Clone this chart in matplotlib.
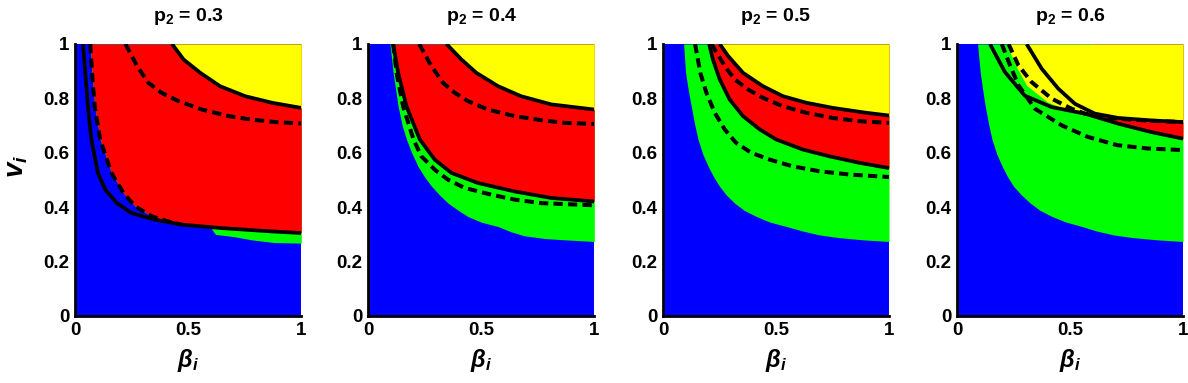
import matplotlib
matplotlib.use('Agg')
import matplotlib.pyplot as plt

plt.rcParams['font.family'] = ['Liberation Sans', 'DejaVu Sans']
plt.rcParams['font.weight'] = 'bold'
plt.rcParams['mathtext.fontset'] = 'custom'
plt.rcParams['mathtext.rm'] = 'Liberation Sans:bold'
plt.rcParams['mathtext.it'] = 'Liberation Sans:bold:italic'
plt.rcParams['mathtext.bf'] = 'Liberation Sans:bold'

BLUE = '#0000ff'
GREEN = '#00ff00'
RED = '#ff0000'
YELLOW = '#ffff00'

p2_values = [0.3, 0.4, 0.5, 0.6]

# --- p2 = 0.3 ---
p1_green_b = [0.066, 0.074, 0.086, 0.11, 0.16, 0.214, 0.265, 0.34, 0.41, 0.47, 0.6, 0.62, 0.7, 0.78, 0.88, 1.0]
p1_green_v = [1.0, 0.894, 0.77, 0.649, 0.526, 0.451, 0.403, 0.366, 0.348, 0.336, 0.324, 0.300, 0.292, 0.280, 0.270, 0.268]
p1_red_b = [0.066, 0.074, 0.086, 0.11, 0.16, 0.214, 0.265, 0.34, 0.41, 0.47, 0.65, 0.87, 1.0]
p1_red_v = [1.0, 0.894, 0.77, 0.649, 0.526, 0.451, 0.403, 0.366, 0.348, 0.336, 0.323, 0.311, 0.305]
p1_yel_b = [0.428, 0.479, 0.553, 0.64, 0.752, 0.87, 1.0]
p1_yel_v = [1.0, 0.943, 0.894, 0.845, 0.808, 0.784, 0.765]
p1_solid = [
    ([0.034, 0.044, 0.056, 0.071, 0.10, 0.133, 0.184, 0.25, 0.354, 0.47, 0.65, 0.87, 1.0],
     [1.0, 0.894, 0.77, 0.649, 0.526, 0.464, 0.415, 0.378, 0.354, 0.336, 0.323, 0.311, 0.305]),
    (p1_yel_b, p1_yel_v),
]
p1_dashed = [
    ([0.066, 0.074, 0.086, 0.11, 0.16, 0.214, 0.265, 0.34, 0.41, 0.47],
     [1.0, 0.894, 0.77, 0.649, 0.526, 0.451, 0.403, 0.366, 0.348, 0.336]),
    ([0.222, 0.273, 0.324, 0.383, 0.457, 0.56, 0.678, 0.78, 0.885, 1.0],
     [1.0, 0.919, 0.857, 0.82, 0.79, 0.759, 0.735, 0.722, 0.713, 0.708]),
]

# --- p2 = 0.4 ---
p2_green_b = [0.096, 0.11, 0.132, 0.15, 0.169, 0.192, 0.22, 0.25, 0.28, 0.315, 0.353, 0.395, 0.44, 0.5, 0.574, 0.63, 0.69, 0.78, 0.868, 1.0]
p2_green_v = [1.0, 0.894, 0.771, 0.70, 0.649, 0.60, 0.55, 0.51, 0.477, 0.445, 0.415, 0.39, 0.366, 0.345, 0.329, 0.31, 0.295, 0.285, 0.28, 0.274]
p2_red_b = [0.11, 0.132, 0.169, 0.228, 0.294, 0.368, 0.485, 0.647, 0.809, 1.0]
p2_red_v = [1.0, 0.894, 0.771, 0.649, 0.575, 0.526, 0.489, 0.458, 0.434, 0.421]
p2_yel_b = [0.346, 0.412, 0.478, 0.574, 0.676, 0.809, 1.0]
p2_yel_v = [1.0, 0.943, 0.894, 0.845, 0.808, 0.778, 0.759]
p2_solid = [(p2_red_b, p2_red_v), (p2_yel_b, p2_yel_v)]
p2_dashed = [
    ([0.11, 0.125, 0.154, 0.2, 0.235, 0.294, 0.353, 0.426, 0.544, 0.647, 0.765, 1.0],
     [1.0, 0.894, 0.771, 0.649, 0.587, 0.538, 0.501, 0.471, 0.446, 0.428, 0.415, 0.407]),
    ([0.225, 0.279, 0.331, 0.382, 0.441, 0.529, 0.647, 0.765, 0.868, 1.0],
     [1.0, 0.919, 0.857, 0.821, 0.79, 0.759, 0.735, 0.72, 0.71, 0.706]),
]

# --- p2 = 0.5 ---
p3_green_b = [0.091, 0.1, 0.112, 0.125, 0.14, 0.155, 0.176, 0.2, 0.225, 0.25, 0.28, 0.317, 0.36, 0.413, 0.47, 0.546, 0.62, 0.693, 0.78, 0.885, 1.0]
p3_green_v = [1.0, 0.894, 0.83, 0.771, 0.705, 0.649, 0.595, 0.55, 0.51, 0.477, 0.445, 0.415, 0.388, 0.366, 0.346, 0.329, 0.312, 0.298, 0.288, 0.28, 0.274]
p3_red_b = [0.204, 0.221, 0.251, 0.295, 0.354, 0.428, 0.501, 0.619, 0.737, 0.87, 1.0]
p3_red_v = [1.0, 0.943, 0.87, 0.796, 0.735, 0.686, 0.649, 0.612, 0.587, 0.563, 0.544]
p3_yel_b = [0.251, 0.288, 0.354, 0.442, 0.531, 0.634, 0.752, 0.9, 1.0]
p3_yel_v = [1.0, 0.956, 0.894, 0.845, 0.808, 0.784, 0.765, 0.747, 0.737]
p3_solid = [(p3_red_b, p3_red_v), (p3_yel_b, p3_yel_v)]
p3_dashed = [
    ([0.142, 0.165, 0.192, 0.229, 0.273, 0.324, 0.391, 0.472, 0.575, 0.693, 0.826, 1.0],
     [1.0, 0.894, 0.821, 0.747, 0.686, 0.636, 0.6, 0.575, 0.55, 0.532, 0.52, 0.511]),
    ([0.215, 0.229, 0.273, 0.317, 0.376, 0.442, 0.531, 0.634, 0.752, 0.87, 1.0],
     [1.0, 0.98, 0.919, 0.87, 0.833, 0.802, 0.771, 0.747, 0.728, 0.716, 0.71]),
]

# --- p2 = 0.6 ---
p4_green_b = [0.091, 0.103, 0.114, 0.125, 0.14, 0.155, 0.176, 0.2, 0.225, 0.25, 0.285, 0.324, 0.368, 0.42, 0.48, 0.553, 0.62, 0.693, 0.78, 0.885, 1.0]
p4_green_v = [1.0, 0.894, 0.83, 0.771, 0.705, 0.649, 0.595, 0.55, 0.51, 0.477, 0.445, 0.415, 0.388, 0.366, 0.346, 0.329, 0.312, 0.298, 0.288, 0.28, 0.274]
p4_red_b = [0.6, 0.714, 0.861, 1.0]
p4_red_v = [0.74, 0.707, 0.676, 0.652]
p4_yel_b = [0.219, 0.26, 0.308, 0.40, 0.48, 0.566, 0.7, 0.85, 1.0]
p4_yel_v = [1.0, 0.921, 0.848, 0.787, 0.76, 0.744, 0.728, 0.72, 0.714]
p4_solid = [
    ([0.146, 0.212, 0.30, 0.419, 0.566, 0.714, 0.861, 1.0],
     [1.0, 0.897, 0.81, 0.768, 0.744, 0.707, 0.676, 0.652]),
    ([0.308, 0.375, 0.448, 0.522, 0.61, 0.714, 0.861, 1.0],
     [1.0, 0.909, 0.836, 0.78, 0.744, 0.728, 0.719, 0.713]),
]
p4_dashed = [
    ([0.198, 0.235, 0.272, 0.345, 0.463, 0.577, 0.709, 0.842, 1.0],
     [1.0, 0.921, 0.848, 0.762, 0.701, 0.659, 0.628, 0.616, 0.61]),
    ([0.228, 0.272, 0.33, 0.419, 0.507, 0.566, 0.7, 0.85, 1.0],
     [1.0, 0.921, 0.86, 0.799, 0.762, 0.744, 0.726, 0.718, 0.713]),
]

panels = [
    (p1_green_b, p1_green_v, p1_red_b, p1_red_v, p1_yel_b, p1_yel_v, p1_solid, p1_dashed),
    (p2_green_b, p2_green_v, p2_red_b, p2_red_v, p2_yel_b, p2_yel_v, p2_solid, p2_dashed),
    (p3_green_b, p3_green_v, p3_red_b, p3_red_v, p3_yel_b, p3_yel_v, p3_solid, p3_dashed),
    (p4_green_b, p4_green_v, p4_red_b, p4_red_v, p4_yel_b, p4_yel_v, p4_solid, p4_dashed),
]

fig = plt.figure(figsize=(11.88, 3.83), dpi=100)
lefts = [75.3, 368.3, 663.0, 957.0]

for k, (p2, pan) in enumerate(zip(p2_values, panels)):
    gb, gv, rb, rv, yb, yv, solids, dashes = pan
    ax = fig.add_axes([lefts[k] / 1188, 67 / 383, 226 / 1188, 272 / 383])
    ax.set_facecolor(BLUE)
    ax.fill_between(gb, gv, 1, color=GREEN, lw=0)
    ax.fill_between(rb, rv, 1, color=RED, lw=0)
    ax.fill_between(yb, yv, 1, color=YELLOW, lw=0)
    for xb, yvals in solids:
        ax.plot(xb, yvals, color='black', lw=2.7, solid_capstyle='butt')
    for xb, yvals in dashes:
        ax.plot(xb, yvals, color='black', lw=2.9, linestyle=(0, (2.3, 1.3)),
                dash_capstyle='butt')

    ax.set_xlim(0, 1)
    ax.set_ylim(0, 1)
    ax.set_xticks([0, 0.5, 1])
    ax.set_xticklabels(['0', '0.5', '1'])
    ax.set_yticks([0, 0.2, 0.4, 0.6, 0.8, 1])
    ax.set_yticklabels(['0', '0.2', '0.4', '0.6', '0.8', '1'])
    ax.tick_params(length=0, labelsize=13.5, pad=4)
    for s in ['top', 'right']:
        ax.spines[s].set_visible(False)
    for s in ['left', 'bottom']:
        ax.spines[s].set_linewidth(2.0)
        ax.spines[s].set_zorder(5)
    ax.text(0.5, 1.085, f'p$_\\mathregular{{2}}$ = {p2}', transform=ax.transAxes,
            fontsize=14, fontweight='bold', ha='center', va='baseline')
    ax.set_xlabel(r'$\beta_i$', fontsize=17)
    ax.xaxis.set_label_coords(0.5, -0.115)
    if k == 0:
        ax.set_ylabel(r'$v_i$', fontsize=20)
        ax.yaxis.set_label_coords(-0.20, 0.55)

fig.savefig('out.png', dpi=100)
